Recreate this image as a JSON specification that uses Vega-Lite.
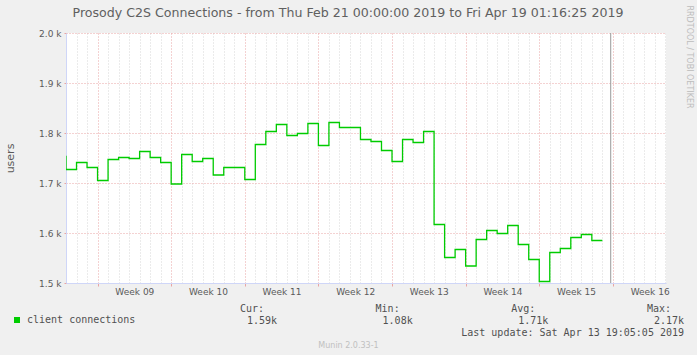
{
  "$schema": "https://vega.github.io/schema/vega-lite/v6.json",
  "width": 600,
  "height": 250,
  "autosize": {"type": "none"},
  "padding": {"left": 66, "top": 33, "right": 31, "bottom": 72},
  "background": "#F0F0F0",
  "config": {"view": {"stroke": null, "fill": "#FFFFFF"}, "font": "DejaVu Sans"},
  "title": {
    "text": "Prosody C2S Connections - from Thu Feb 21 00:00:00 2019 to Fri Apr 19 01:16:25 2019",
    "font": "DejaVu Sans", "fontSize": 12.6, "fontWeight": "normal", "color": "#606060",
    "anchor": "middle", "frame": "group", "dx": -18, "offset": -21, "baseline": "middle"
  },
  "datasets": {
    "main": [
      {"t": "2019-02-20", "users": 1753},
      {"t": "2019-02-21", "users": 1727},
      {"t": "2019-02-22", "users": 1741},
      {"t": "2019-02-23", "users": 1731},
      {"t": "2019-02-24", "users": 1705},
      {"t": "2019-02-25", "users": 1747},
      {"t": "2019-02-26", "users": 1751},
      {"t": "2019-02-27", "users": 1749},
      {"t": "2019-02-28", "users": 1763},
      {"t": "2019-03-01", "users": 1751},
      {"t": "2019-03-02", "users": 1741},
      {"t": "2019-03-03", "users": 1698},
      {"t": "2019-03-04", "users": 1757},
      {"t": "2019-03-05", "users": 1743},
      {"t": "2019-03-06", "users": 1749},
      {"t": "2019-03-07", "users": 1716},
      {"t": "2019-03-08", "users": 1731},
      {"t": "2019-03-09", "users": 1731},
      {"t": "2019-03-10", "users": 1707},
      {"t": "2019-03-11", "users": 1777},
      {"t": "2019-03-12", "users": 1803},
      {"t": "2019-03-13", "users": 1817},
      {"t": "2019-03-14", "users": 1795},
      {"t": "2019-03-15", "users": 1799},
      {"t": "2019-03-16", "users": 1819},
      {"t": "2019-03-17", "users": 1775},
      {"t": "2019-03-18", "users": 1821},
      {"t": "2019-03-19", "users": 1811},
      {"t": "2019-03-20", "users": 1811},
      {"t": "2019-03-21", "users": 1787},
      {"t": "2019-03-22", "users": 1783},
      {"t": "2019-03-23", "users": 1765},
      {"t": "2019-03-24", "users": 1743},
      {"t": "2019-03-25", "users": 1787},
      {"t": "2019-03-26", "users": 1781},
      {"t": "2019-03-27", "users": 1803},
      {"t": "2019-03-28", "users": 1617},
      {"t": "2019-03-29", "users": 1551},
      {"t": "2019-03-30", "users": 1567},
      {"t": "2019-03-31", "users": 1534},
      {"t": "2019-04-01", "users": 1587},
      {"t": "2019-04-02", "users": 1605},
      {"t": "2019-04-03", "users": 1599},
      {"t": "2019-04-04", "users": 1615},
      {"t": "2019-04-05", "users": 1577},
      {"t": "2019-04-06", "users": 1547},
      {"t": "2019-04-07", "users": 1503},
      {"t": "2019-04-08", "users": 1561},
      {"t": "2019-04-09", "users": 1569},
      {"t": "2019-04-10", "users": 1591},
      {"t": "2019-04-11", "users": 1597},
      {"t": "2019-04-12", "users": 1585},
      {"t": "2019-04-13", "users": 1585}
    ],
    "last": [{"t": "2019-04-13T19:05:05Z"}],
    "headers": [
      {"col": 1, "row": 0, "label": "Cur:"},
      {"col": 2, "row": 0, "label": "Min:"},
      {"col": 3, "row": 0, "label": "Avg:"},
      {"col": 4, "row": 0, "label": "Max:"}
    ],
    "footer": [
      {"col": 1, "row": 1, "label": "1.59k"},
      {"col": 2, "row": 1, "label": "1.08k"},
      {"col": 3, "row": 1, "label": "1.71k"},
      {"col": 4, "row": 1, "label": "2.17k"},
      {"col": 4, "row": 2, "label": "Last update: Sat Apr 13 19:05:05 2019"}
    ]
  },
  "layer": [
    {
      "layer": [
        {
          "data": {"name": "main"},
          "mark": {"type": "line", "interpolate": "step-after", "clip": true, "strokeWidth": 1.3},
          "encoding": {
            "x": {
              "field": "t", "type": "temporal",
              "scale": {
                "type": "utc", "nice": false,
                "domain": [
                  {"year": 2019, "month": "feb", "date": 21, "utc": true},
                  {"year": 2019, "month": "apr", "date": 19, "hours": 1, "minutes": 16, "seconds": 25, "utc": true}
                ]
              },
              "axis": {
                "tickCount": {"interval": "day", "step": 1},
                "grid": true,
                "gridColor": {"condition": {"test": "utcday(datum.value) === 0", "value": "#e8a4a4"}, "value": "#d6d6d6"},
                "gridDash": [1, 2],
                "ticks": true,
                "tickSize": 3,
                "tickColor": "#e8a4a4",
                "tickOpacity": {"condition": {"test": "utcday(datum.value) === 0", "value": 1}, "value": 0},
                "labelExpr": "utcday(datum.value) === 0 ? 'Week ' + utcFormat(time(datum.value) + 302400000, '%V') : ''",
                "labelOffset": 36.8,
                "labelAlign": "center",
                "labelFlush": false,
                "labelOverlap": false,
                "labelPadding": 1,
                "labelFont": "DejaVu Sans",
                "labelFontSize": 9,
                "labelColor": "#5a5a5a",
                "domainColor": "#CFD6F8",
                "title": "Munin 2.0.33-1",
                "titleFont": "DejaVu Sans",
                "titleFontSize": 8,
                "titleFontWeight": "normal",
                "titleColor": "#c0c0c0",
                "titleX": 282,
                "titleY": 62,
                "titleAlign": "center",
                "titleBaseline": "middle"
              }
            },
            "y": {
              "field": "users", "type": "quantitative",
              "scale": {"domain": [1500, 2000], "nice": false, "zero": false},
              "axis": {
                "values": [1500, 1600, 1700, 1800, 1900, 2000],
                "labelExpr": "format(datum.value / 1000, '.1f') + ' k'",
                "grid": true,
                "gridColor": "#e8a4a4",
                "gridDash": [1, 2],
                "domainColor": "#CFD6F8",
                "tickColor": "#e8a4a4",
                "tickSize": 2,
                "labelPadding": 3,
                "labelFont": "DejaVu Sans",
                "labelFontSize": 9,
                "labelColor": "#5a5a5a",
                "title": "users",
                "titleFont": "DejaVu Sans",
                "titleFontSize": 11,
                "titleFontWeight": "normal",
                "titleColor": "#5a5a5a",
                "titleX": -56,
                "titleY": 125,
                "titleAngle": -90,
                "titleAlign": "center",
                "titleBaseline": "middle"
              }
            },
            "color": {
              "datum": "client connections",
              "scale": {"range": ["#00CC00"]},
              "legend": {
                "orient": "none",
                "legendX": -54,
                "legendY": 282,
                "title": null,
                "padding": 0,
                "symbolType": "square",
                "symbolSize": 36,
                "symbolFillColor": "#00CC00",
                "symbolStrokeWidth": 0,
                "labelOffset": 5,
                "labelFont": "DejaVu Sans Mono",
                "labelFontSize": 10,
                "labelColor": "#505050"
              }
            }
          }
        },
        {
          "data": {"name": "last"},
          "mark": {"type": "rule", "color": "#9a9a9a", "strokeWidth": 1},
          "encoding": {"x": {"field": "t", "type": "temporal"}}
        },
        {
          "mark": {"type": "point", "shape": "triangle-right", "filled": true, "color": "#CFD6F8", "opacity": 1, "size": 24, "xOffset": 3, "clip": false},
          "encoding": {
            "x": {"datum": {"year": 2019, "month": "apr", "date": 19, "hours": 1, "minutes": 16, "seconds": 25, "utc": true}, "type": "temporal"},
            "y": {"datum": 1500, "type": "quantitative"}
          }
        },
        {
          "mark": {"type": "point", "shape": "triangle-up", "filled": true, "color": "#CFD6F8", "opacity": 1, "size": 24, "yOffset": -3, "clip": false},
          "encoding": {
            "x": {"datum": {"year": 2019, "month": "feb", "date": 21, "utc": true}, "type": "temporal"},
            "y": {"datum": 2000, "type": "quantitative"}
          }
        }
      ]
    },
    {
      "layer": [
        {
          "data": {"name": "headers"},
          "mark": {"type": "text", "align": "right", "baseline": "middle", "dx": -13, "font": "DejaVu Sans Mono", "fontSize": 10, "color": "#505050"},
          "encoding": {
            "x": {"field": "col", "type": "quantitative", "scale": {"domain": [-0.5553, 3.8672], "nice": false, "zero": false}, "axis": null},
            "y": {
              "field": "row", "type": "quantitative",
              "scale": {"domain": [-23, -2.1667], "nice": false, "zero": false, "reverse": true},
              "axis": {
                "orient": "right",
                "domain": false, "ticks": false, "labels": false, "grid": false,
                "title": "RRDTOOL / TOBI OETIKER",
                "titleFont": "DejaVu Sans",
                "titleFontSize": 8,
                "titleFontWeight": "normal",
                "titleColor": "#bdbdbd",
                "titleAngle": 90,
                "titleX": 22,
                "titleY": 23.5,
                "titleAlign": "center",
                "titleBaseline": "middle"
              }
            },
            "text": {"field": "label"}
          }
        },
        {
          "data": {"name": "footer"},
          "mark": {"type": "text", "align": "right", "baseline": "middle", "font": "DejaVu Sans Mono", "fontSize": 10, "color": "#505050"},
          "encoding": {
            "x": {"field": "col", "type": "quantitative"},
            "y": {"field": "row", "type": "quantitative"},
            "text": {"field": "label"}
          }
        }
      ]
    }
  ],
  "resolve": {"scale": {"x": "independent", "y": "independent"}}
}
